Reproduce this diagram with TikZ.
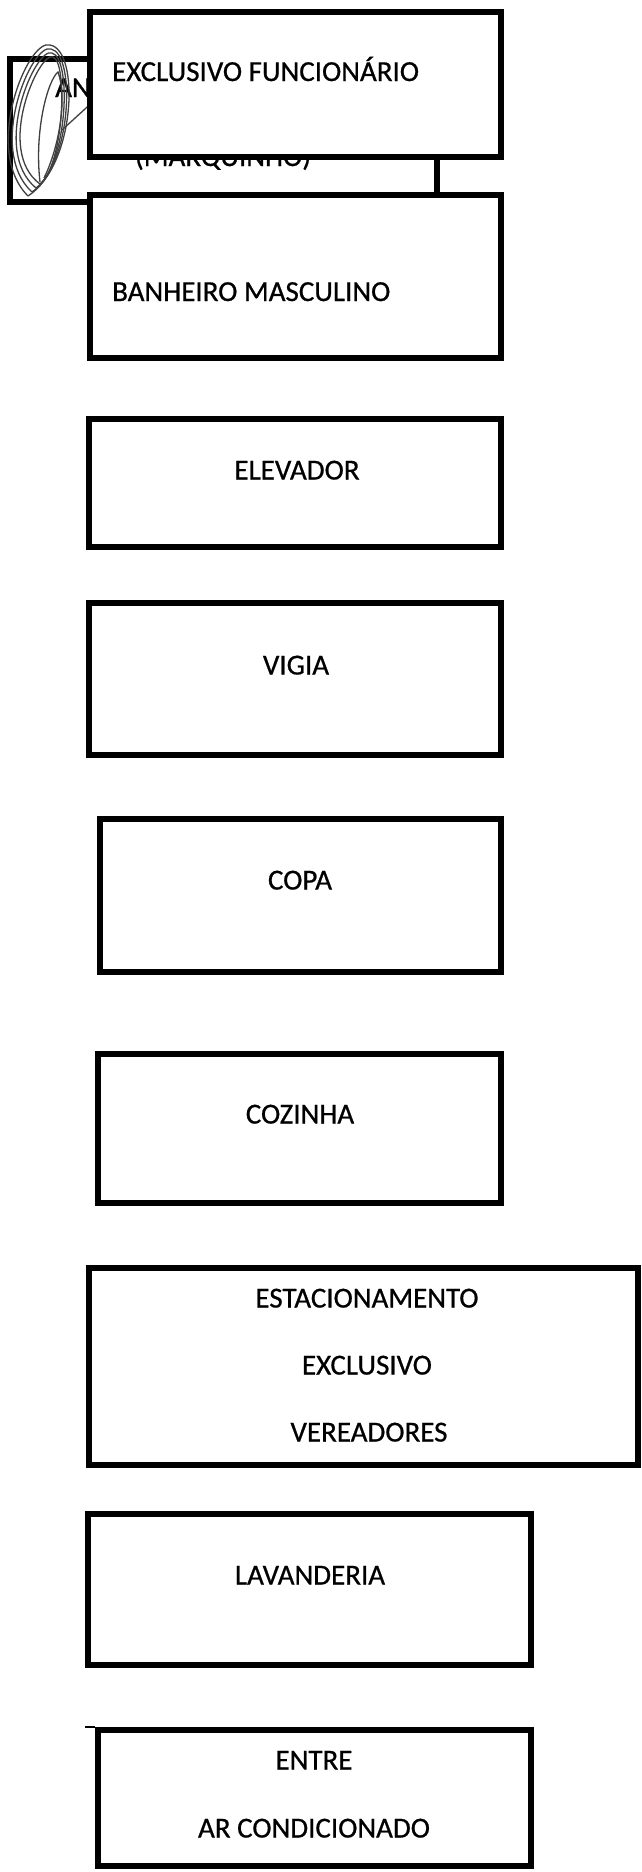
\documentclass[tikz,border=0pt]{standalone}
\usepackage{fontspec}
\setmainfont{Carlito}[FakeBold=0.7]
\usepackage{tikz}
\newcommand{\rotulo}{\fontsize{29}{34}\selectfont}

\begin{document}
\begin{tikzpicture}[x=1pt,y=-1pt,
    sala/.style={draw, fill=white, line width=5.5pt, rectangle, inner sep=0pt},
    txt/.style={font=\rotulo, anchor=base, inner sep=0pt},
    rabisco/.style={draw=black!75, line width=1.3pt}]
  \useasboundingbox (0,0) rectangle (642,1872);
  % caixa de tras (coberta)
  \node[sala, minimum width=427pt, minimum height=143pt] (anexo) at (223.5,130.5) {};
  \node[txt, anchor=base west] (anexoA) at (55,97) {AN};
  \node[txt] (anexoB) at (223,166) {(MARQUINHO)};
  % rubrica
  \foreach \d in {0,4,8,12}
    \draw[rabisco] (28+\d,196-\d) .. controls (-18+\d,150) and (28+\d,38+\d) .. (50+\d/4,45+\d)
                   .. controls (80-\d,50+\d) and (76-\d,165) .. (28+\d,196-\d);
  \draw[rabisco] (40,182) .. controls (34,130) and (48,80) .. (58,72)
                 .. controls (68,100) and (58,150) .. (44,178);
  \draw[rabisco] (62,130) -- (97,98);
  % salas
  \node[sala, minimum width=411pt, minimum height=145pt] (func) at (295.5,84.5) {};
  \node[txt, anchor=base west] (funcT) at (112,81) {EXCLUSIVO FUNCIONÁRIO};
  \node[sala, minimum width=411pt, minimum height=163pt] (banh) at (295.5,276.5) {};
  \node[txt, anchor=base west] (banhT) at (112,301) {BANHEIRO MASCULINO};
  \node[sala, minimum width=412pt, minimum height=128pt] (elev) at (295,483) {};
  \node[txt] (elevT) at (297,479.5) {ELEVADOR};
  \node[sala, minimum width=412pt, minimum height=152pt] (vigia) at (295,679) {};
  \node[txt] (vigiaT) at (296,674.5) {VIGIA};
  \node[sala, minimum width=401pt, minimum height=153pt] (copa) at (300.5,895.5) {};
  \node[txt] (copaT) at (300,889.5) {COPA};
  \node[sala, minimum width=403pt, minimum height=149pt] (coz) at (299.5,1128.5) {};
  \node[txt] (cozT) at (300,1123.5) {COZINHA};
  \node[sala, minimum width=549pt, minimum height=197pt] (estac) at (363.5,1366.5) {};
  \node[txt] (estacA) at (367,1307.5) {ESTACIONAMENTO};
  \node[txt] (estacB) at (367,1374.5) {EXCLUSIVO};
  \node[txt] (estacC) at (369,1441.5) {VEREADORES};
  \node[sala, minimum width=443pt, minimum height=151pt] (lav) at (309.5,1589.5) {};
  \node[txt] (lavT) at (310,1584.5) {LAVANDERIA};
  \node[sala, minimum width=433pt, minimum height=136pt] (ar) at (314.5,1798) {};
  \node[txt] (arA) at (314,1769.5) {ENTRE};
  \node[txt] (arB) at (314,1837.5) {AR CONDICIONADO};
  \draw[line width=2pt] (ar.north west) -- ++(-10,0);
\end{tikzpicture}
\end{document}
